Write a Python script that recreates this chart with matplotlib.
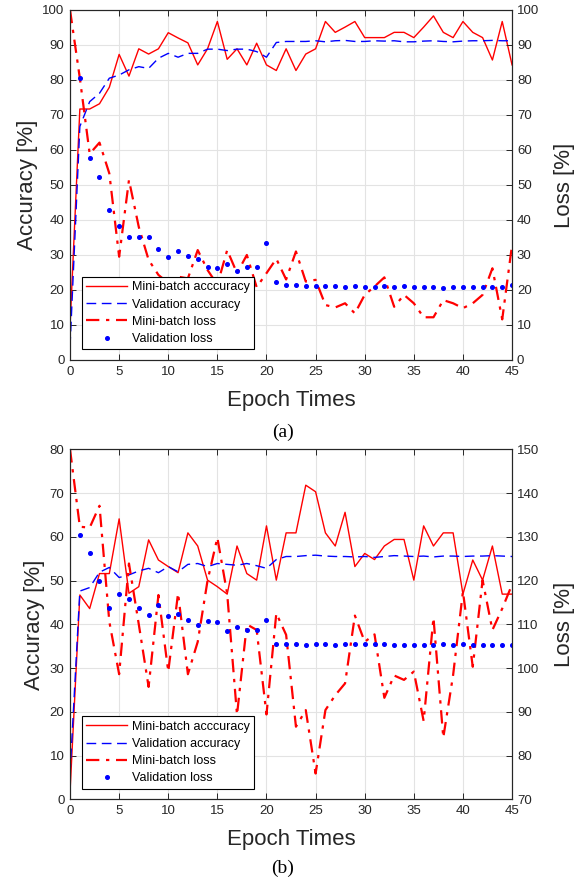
import numpy as np
import matplotlib.pyplot as plt

epochs = list(range(0, 46))
valEpochs = list(range(1, 46))

# panel (a)
accA = [9.5, 71.7, 71.7, 73.2, 77.9, 87.3, 81.1, 88.9, 87.4, 88.9, 93.5, 92.0, 90.6, 84.3, 88.9, 96.7,
        85.9, 88.9, 84.3, 90.5, 84.3, 82.7, 88.9, 82.7, 87.4, 88.9, 96.7, 93.6, 95.1, 96.7, 92.1, 92.1,
        92.1, 93.6, 93.6, 92.1, 95.1, 98.3, 93.6, 92.1, 96.7, 93.6, 92.1, 85.7, 96.7, 84.3]
valAccA = [3.8, 66.7, 73.8, 76.2, 80.5, 81.4, 82.9, 83.8, 83.3, 86.2, 87.6, 86.5, 87.6, 87.6, 88.8, 88.8,
           88.4, 88.8, 88.8, 88.1, 86.5, 90.7, 91.0, 91.0, 91.0, 91.2, 90.9, 91.2, 91.3, 91.0, 91.0, 91.2,
           91.1, 91.2, 90.9, 90.9, 91.1, 91.2, 91.0, 90.9, 91.1, 91.2, 91.2, 91.3, 91.2, 91.2]
lossA = [100, 80.5, 58.9, 62.1, 53.3, 29.5, 51.4, 38.0, 28.6, 24.3, 22.0, 23.8, 23.3, 31.4, 25.7, 21.5,
         31.4, 24.8, 30.0, 20.8, 24.8, 28.9, 23.0, 31.0, 22.4, 22.9, 15.7, 15.0, 16.2, 13.3, 18.6, 21.0,
         23.6, 15.2, 18.6, 16.2, 12.2, 12.2, 17.1, 16.2, 14.8, 16.2, 18.6, 26.2, 11.6, 32.9]
valLossA = [80.7, 57.6, 52.3, 42.9, 38.3, 35.0, 35.0, 35.0, 31.6, 29.5, 31.1, 29.7, 28.8, 26.7, 26.2,
            27.4, 25.5, 26.7, 26.7, 33.5, 22.2, 21.4, 21.4, 21.1, 21.2, 21.2, 21.2, 20.8, 21.2, 20.9,
            20.9, 21.2, 20.8, 21.0, 20.9, 20.9, 20.9, 20.7, 20.9, 20.9, 20.9, 20.9, 20.8, 20.9, 21.3]

# panel (b)
accB = [1.7, 46.7, 43.6, 51.6, 51.6, 64.1, 47.1, 48.6, 59.3, 54.7, 53.2, 51.8, 60.9, 57.9, 50.1, 48.6,
        46.9, 57.9, 51.6, 50.1, 62.5, 50.1, 60.9, 60.9, 71.8, 70.3, 60.9, 57.9, 65.6, 53.2, 56.2, 54.8,
        57.9, 59.4, 59.4, 50.1, 62.5, 57.9, 60.9, 60.9, 46.9, 54.7, 50.1, 57.9, 46.9, 46.9]
valAccB = [5.9, 47.6, 48.4, 51.9, 53.0, 50.7, 51.3, 52.2, 52.8, 51.8, 53.2, 52.0, 53.7, 53.9, 53.2, 53.9,
           53.7, 53.5, 53.9, 53.4, 52.8, 54.8, 55.5, 55.5, 55.7, 55.8, 55.6, 55.5, 55.5, 55.4, 55.5, 55.3,
           55.5, 55.7, 55.6, 55.5, 55.6, 55.4, 55.6, 55.6, 55.5, 55.6, 55.6, 55.7, 55.6, 55.5]
lossB = [150, 132.3, 132.1, 137.1, 110.6, 98.6, 123.9, 110.0, 95.7, 116.7, 99.2, 117.1, 98.6, 106.0, 120.0,
         129.8, 117.0, 89.3, 110.0, 108.7, 89.4, 112.5, 107.6, 86.6, 90.4, 75.9, 90.4, 93.8, 96.5, 112.0,
         106.0, 107.7, 93.2, 98.3, 97.3, 99.2, 87.9, 111.5, 84.1, 98.4, 117.5, 100.3, 120.1, 108.7, 113.6, 119.1]
valLossB = [130.4, 126.4, 119.8, 113.7, 116.9, 115.8, 113.8, 112.1, 114.4, 112.0, 112.4, 111.0, 109.8,
            110.7, 110.6, 108.5, 109.5, 108.7, 108.7, 111.1, 105.6, 105.4, 105.5, 105.3, 105.4, 105.4,
            105.3, 105.4, 105.4, 105.4, 105.5, 105.4, 105.3, 105.3, 105.3, 105.3, 105.3, 105.4, 105.3,
            105.4, 105.3, 105.3, 105.2, 105.3, 105.2]

legendLabels = ['Mini-batch acccuracy', 'Validation accuracy', 'Mini-batch loss', 'Validation loss']
xTicks = list(range(0, 46, 5))

plt.rcParams['font.family'] = ['Liberation Sans', 'DejaVu Sans']
axisGrey = '#262626'


def plotPanel(fig, rect, acc, valAcc, loss, valLoss, accLim, lossLim, caption, captionY):
    """Draws one accuracy / loss panel with two y axes"""

    ax = fig.add_axes(rect)
    ax2 = ax.twinx()

    l1, = ax.plot(epochs, acc, color='red', lw=1.0)
    l2, = ax.plot(epochs, valAcc, color='blue', lw=1.0, dashes=(7, 4))
    l3, = ax2.plot(epochs, loss, color='red', lw=1.6, dashes=(6, 3, 1.5, 3))
    l4, = ax2.plot(valEpochs, valLoss, color='blue', lw=0, marker='o', ms=2.6)

    ax.set_xlim(0, 45)
    ax.set_ylim(*accLim)
    ax2.set_ylim(*lossLim)
    ax.set_xticks(xTicks)
    ax.set_yticks(np.arange(accLim[0], accLim[1] + 1, 10))
    ax2.set_yticks(np.arange(lossLim[0], lossLim[1] + 1, 10))

    ax.grid(True, color='#e3e3e3', lw=0.8)
    ax.set_axisbelow(True)

    for a in (ax, ax2):
        a.tick_params(direction='in', length=4, width=0.7, labelsize=9.5, colors=axisGrey)
        for s in a.spines.values():
            s.set_color(axisGrey)
            s.set_linewidth(0.8)
    ax.tick_params(top=True, pad=4)

    ax.set_xlabel('Epoch Times', fontsize=16, color=axisGrey, labelpad=9)
    ax.set_ylabel('Accuracy [%]', fontsize=16, color=axisGrey, labelpad=3)
    ax2.set_ylabel('Loss [%]', fontsize=16, color=axisGrey, labelpad=11)

    leg = ax2.legend([l1, l2, l3, l4], legendLabels, loc='lower left',
                     bbox_to_anchor=(0.026, 0.03), borderaxespad=0, fontsize=9,
                     handlelength=3.3, handletextpad=0.35, labelspacing=0.42,
                     fancybox=False, framealpha=1, edgecolor='black', borderpad=0.35)
    leg.get_frame().set_linewidth(0.8)

    fig.text(0.483, captionY, caption, ha='center', va='center',
             fontsize=14, family='Liberation Serif')


fig = plt.figure(figsize=(5.85, 8.81), dpi=100)

plotPanel(fig, [0.1197, 0.5914, 0.7556, 0.3973], accA, valAccA, lossA, valLossA,
          (0, 100), (0, 100), '(a)', 0.5096)
plotPanel(fig, [0.1197, 0.0927, 0.7556, 0.3973], accB, valAccB, lossB, valLossB,
          (0, 80), (70, 150), '(b)', 0.0148)

plt.savefig('out.png', dpi=100)
plt.close()
